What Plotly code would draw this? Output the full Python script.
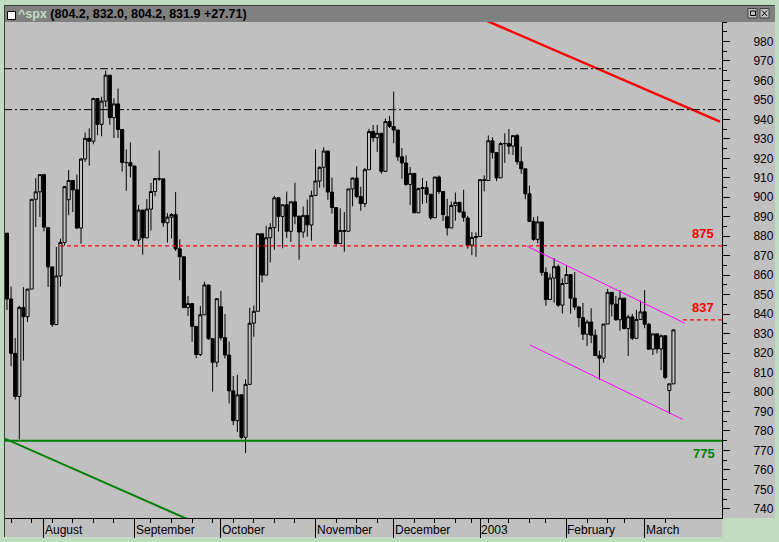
import plotly.graph_objects as go
import datetime as dt

# ---------------- data ----------------
dates = [
    "2002-07-19", "2002-07-22", "2002-07-23", "2002-07-24", "2002-07-25", "2002-07-26", "2002-07-29", "2002-07-30", "2002-07-31",
    "2002-08-01", "2002-08-02", "2002-08-05", "2002-08-06", "2002-08-07", "2002-08-08", "2002-08-09", "2002-08-12", "2002-08-13",
    "2002-08-14", "2002-08-15", "2002-08-16", "2002-08-19", "2002-08-20", "2002-08-21", "2002-08-22", "2002-08-23", "2002-08-26",
    "2002-08-27", "2002-08-28", "2002-08-29", "2002-08-30",
    "2002-09-03", "2002-09-04", "2002-09-05", "2002-09-06", "2002-09-09", "2002-09-10", "2002-09-11", "2002-09-12", "2002-09-13",
    "2002-09-16", "2002-09-17", "2002-09-18", "2002-09-19", "2002-09-20", "2002-09-23", "2002-09-24", "2002-09-25", "2002-09-26",
    "2002-09-27", "2002-09-30",
    "2002-10-01", "2002-10-02", "2002-10-03", "2002-10-04", "2002-10-07", "2002-10-08", "2002-10-09", "2002-10-10", "2002-10-11",
    "2002-10-14", "2002-10-15", "2002-10-16", "2002-10-17", "2002-10-18", "2002-10-21", "2002-10-22", "2002-10-23", "2002-10-24",
    "2002-10-25", "2002-10-28", "2002-10-29", "2002-10-30", "2002-10-31",
    "2002-11-01", "2002-11-04", "2002-11-05", "2002-11-06", "2002-11-07", "2002-11-08", "2002-11-11", "2002-11-12", "2002-11-13",
    "2002-11-14", "2002-11-15", "2002-11-18", "2002-11-19", "2002-11-20", "2002-11-21", "2002-11-22", "2002-11-25", "2002-11-26",
    "2002-11-27", "2002-11-29",
    "2002-12-02", "2002-12-03", "2002-12-04", "2002-12-05", "2002-12-06", "2002-12-09", "2002-12-10", "2002-12-11", "2002-12-12",
    "2002-12-13", "2002-12-16", "2002-12-17", "2002-12-18", "2002-12-19", "2002-12-20", "2002-12-23", "2002-12-24", "2002-12-26",
    "2002-12-27", "2002-12-30", "2002-12-31",
    "2003-01-02", "2003-01-03", "2003-01-06", "2003-01-07", "2003-01-08", "2003-01-09", "2003-01-10", "2003-01-13", "2003-01-14",
    "2003-01-15", "2003-01-16", "2003-01-17", "2003-01-21", "2003-01-22", "2003-01-23", "2003-01-24", "2003-01-27", "2003-01-28",
    "2003-01-29", "2003-01-30", "2003-01-31",
    "2003-02-03", "2003-02-04", "2003-02-05", "2003-02-06", "2003-02-07", "2003-02-10", "2003-02-11", "2003-02-12", "2003-02-13",
    "2003-02-14", "2003-02-18", "2003-02-19", "2003-02-20", "2003-02-21", "2003-02-24", "2003-02-25", "2003-02-26", "2003-02-27",
    "2003-02-28",
    "2003-03-03", "2003-03-04", "2003-03-05", "2003-03-06", "2003-03-07", "2003-03-10", "2003-03-12", "2003-03-13",
]

opens = [
    881.56, 847.76, 819.85, 797.71, 843.42, 838.68, 852.84, 898.96, 902.78,
    911.62, 884.40, 864.24, 834.60, 859.57, 876.77, 898.73, 908.64, 903.80,
    884.21, 919.62, 930.25, 928.77, 950.70, 937.43, 949.36, 962.70, 940.86,
    947.95, 934.82, 917.87, 917.80,
    916.07, 878.02, 893.40, 879.15, 893.92, 902.96, 909.58, 909.45, 886.91,
    889.81, 891.10, 873.52, 869.46, 843.32, 845.39, 833.70, 819.27, 839.66,
    854.95, 827.37,
    815.28, 843.77, 827.91, 818.95, 800.58, 785.28, 798.55, 776.76, 803.92,
    835.32, 841.44, 881.27, 860.02, 879.20, 884.39, 899.72, 890.16, 896.14,
    882.50, 897.65, 890.23, 882.15, 890.71,
    885.76, 900.96, 908.35, 915.39, 923.76, 902.65, 894.74, 876.19, 882.95,
    882.53, 904.27, 909.83, 900.36, 896.74, 914.15, 933.76, 930.55, 932.87,
    913.31, 938.87,
    936.31, 934.53, 920.75, 917.58, 906.55, 912.23, 892.00, 904.45, 904.96,
    901.58, 889.48, 910.40, 902.99, 890.02, 884.25, 895.74, 897.38, 892.47,
    889.31, 875.40, 879.39,
    879.82, 909.03, 908.59, 929.01, 922.93, 909.93, 927.58, 927.57, 926.26,
    931.66, 918.22, 914.60, 901.78, 887.62, 878.36, 887.34, 861.40, 847.48,
    858.54, 864.36, 844.61,
    855.70, 860.32, 848.20, 843.59, 838.15, 829.69, 835.97, 829.20, 818.68,
    817.37, 834.89, 851.17, 845.13, 837.10, 848.17, 832.58, 838.57, 827.55,
    837.28,
    841.15, 834.81, 821.99, 829.85, 822.10, 828.89, 800.73, 804.19,
]

highs = [
    881.56, 854.13, 827.69, 844.32, 853.83, 852.85, 898.96, 909.81, 911.64,
    911.62, 884.72, 864.24, 874.44, 878.74, 905.84, 913.95, 908.64, 911.71,
    920.21, 933.29, 935.38, 951.17, 950.70, 951.59, 965.00, 962.70, 950.80,
    955.82, 934.82, 924.59, 928.15,
    916.07, 896.10, 893.40, 899.07, 907.34, 909.89, 924.02, 909.45, 891.84,
    891.84, 902.68, 878.45, 869.46, 849.32, 845.39, 833.70, 844.22, 856.60,
    854.95, 827.37,
    847.93, 851.93, 840.02, 825.90, 808.21, 808.86, 798.55, 806.51, 843.27,
    844.39, 881.27, 881.27, 885.35, 886.68, 900.69, 899.72, 896.14, 902.94,
    897.71, 907.44, 890.64, 895.28, 898.83,
    903.42, 924.58, 915.83, 925.66, 923.76, 910.11, 894.74, 894.30, 892.51,
    904.27, 910.21, 915.91, 905.45, 915.01, 935.13, 937.15, 937.15, 932.87,
    940.41, 941.82,
    954.28, 934.53, 925.25, 921.49, 915.48, 912.23, 904.95, 909.94, 908.37,
    901.58, 910.42, 911.22, 902.99, 899.19, 897.79, 902.43, 897.38, 903.89,
    890.46, 882.10, 881.93,
    909.03, 911.25, 931.77, 930.81, 922.93, 928.31, 932.89, 935.05, 931.66,
    932.59, 926.03, 914.60, 906.00, 889.74, 890.25, 887.34, 863.95, 860.76,
    868.72, 865.48, 858.33,
    864.64, 860.32, 861.63, 844.23, 845.73, 837.16, 843.02, 832.12, 821.25,
    834.89, 852.87, 851.17, 849.37, 852.28, 848.17, 839.55, 840.10, 842.19,
    847.00,
    852.34, 835.43, 829.87, 829.85, 829.55, 828.89, 804.19, 832.02,
]

lows = [
    842.07, 813.26, 796.13, 775.68, 816.11, 835.92, 852.84, 884.70, 889.88,
    882.48, 853.95, 833.44, 834.60, 854.15, 875.17, 890.77, 892.38, 883.62,
    876.20, 918.17, 916.21, 927.21, 931.86, 931.32, 946.43, 937.17, 930.42,
    930.36, 913.21, 903.33, 910.17,
    877.51, 875.73, 870.50, 879.15, 882.92, 900.50, 908.47, 884.84, 876.76,
    878.91, 872.38, 857.39, 843.09, 839.09, 825.76, 817.38, 818.46, 839.66,
    826.84, 800.20,
    812.82, 826.50, 817.25, 794.10, 782.96, 779.50, 775.80, 768.63, 803.92,
    828.37, 841.44, 856.28, 860.02, 866.58, 873.06, 882.40, 873.82, 879.00,
    877.03, 886.15, 867.91, 879.19, 879.75,
    877.71, 900.96, 904.91, 905.00, 898.68, 891.62, 874.63, 876.19, 872.05,
    882.53, 895.35, 899.48, 893.09, 894.93, 914.15, 928.41, 923.31, 912.10,
    913.31, 935.58,
    927.72, 918.73, 909.51, 905.90, 895.96, 891.97, 892.00, 896.48, 897.00,
    888.48, 889.48, 901.74, 887.82, 880.32, 884.25, 887.98, 892.29, 887.48,
    873.62, 870.23, 869.45,
    879.82, 903.07, 908.59, 919.93, 908.32, 909.93, 917.66, 922.05, 921.72,
    916.70, 911.98, 899.02, 887.62, 877.64, 876.32, 859.71, 844.25, 847.48,
    845.86, 843.74, 840.34,
    855.70, 840.19, 842.11, 833.25, 826.70, 823.53, 825.09, 818.49, 806.29,
    815.03, 834.89, 838.79, 836.56, 831.48, 832.16, 818.54, 826.68, 827.55,
    837.28,
    832.74, 821.96, 819.00, 819.85, 811.23, 806.57, 788.90, 804.19,
]

closes = [
    847.75, 819.85, 797.70, 843.43, 838.68, 852.84, 898.96, 902.78, 911.62,
    884.66, 864.24, 834.60, 859.57, 876.77, 905.46, 908.64, 903.80, 884.21,
    919.62, 930.25, 928.77, 950.70, 937.43, 949.36, 962.70, 940.86, 947.95,
    934.82, 917.87, 917.80, 916.07,
    878.02, 893.40, 879.15, 893.92, 902.96, 909.58, 909.45, 886.91, 889.81,
    891.10, 873.52, 869.46, 843.32, 845.39, 833.70, 819.29, 839.66, 854.95,
    827.37, 815.28,
    847.91, 827.91, 818.95, 800.58, 785.28, 798.55, 776.76, 803.92, 835.32,
    841.44, 881.27, 860.02, 879.20, 884.39, 899.72, 890.16, 896.14, 882.50,
    897.65, 890.23, 882.15, 890.71, 885.76,
    900.96, 908.35, 915.39, 923.76, 902.65, 894.74, 876.19, 882.95, 882.53,
    904.27, 909.83, 900.36, 896.74, 914.15, 933.76, 930.55, 932.87, 913.31,
    938.87, 936.31,
    934.53, 920.75, 917.58, 906.55, 912.23, 892.00, 904.45, 904.96, 901.58,
    889.48, 910.40, 902.99, 891.12, 884.25, 895.76, 897.38, 892.47, 889.66,
    875.40, 879.39, 879.82,
    909.03, 908.59, 929.01, 922.93, 909.93, 927.57, 927.57, 926.26, 931.66,
    918.22, 914.60, 901.78, 887.62, 878.36, 887.34, 861.40, 847.48, 858.54,
    864.36, 844.61, 855.70,
    860.32, 848.20, 843.59, 838.15, 829.69, 835.97, 829.20, 818.68, 817.37,
    834.89, 851.17, 845.13, 837.10, 848.17, 832.58, 838.57, 827.55, 837.28,
    841.15,
    834.81, 821.99, 829.85, 822.10, 828.89, 807.48, 804.19, 831.90,
]

month_labels = ["August", "September", "October", "November", "December", "2003", "February", "March"]
month_dates = ["2002-08-01", "2002-09-03", "2002-10-02", "2002-11-04", "2002-12-02", "2003-01-02", "2003-02-03", "2003-03-03"]

price_ticks = list(range(740, 990, 10))

# drawn reference levels
dashdot_levels = [966, 945]
red_levels = [875, 837]
red_level_start = [12.9, 164.3]          # bar index where each red level starts
green_level = 775

# trend lines: (bar index, price) pairs
green_trend_x = [-1.0, 45.0]
green_trend_y = [776.5, 733.7]
red_trend_x = [115.0, 173.3]
red_trend_y = [992.1, 938.8]
chan_upper_x = [126.3, 164.8]
chan_upper_y = [875.0, 835.3]
chan_lower_x = [127.1, 164.2]
chan_lower_y = [824.2, 786.0]

title_text = "(804.2, 832.0, 804.2, 831.9 +27.71)"

# ---------------- geometry helpers (pixel -> paper) ----------------
W, H = 779, 542
L, R, T, B = 4, 57, 22, 24
PW, PH = W - L - R, H - T - B


def px(xp):
    return (xp - L) / PW


def py(yp):
    return (H - B - yp) / PH


xidx = list(range(len(dates)))
month_idx = [dates.index(d) for d in month_dates]

week_idx = []
prev_week = None
for i, d in enumerate(dates):
    wk = dt.date.fromisoformat(d).isocalendar()[:2]
    if wk != prev_week:
        if i not in month_idx and i > 0:
            week_idx.append(i)
        prev_week = wk

X_MIN, X_MAX = -0.72, 173.8
Y_MIN, Y_MAX = 735.3, 990.0

SILVER = "#C0C0C0"
GREENBG = "#C0DCC0"
FONT = "Liberation Sans, Arial, sans-serif"

fig = go.Figure()

fig.add_trace(go.Candlestick(
    x=xidx, open=opens, high=highs, low=lows, close=closes,
    increasing=dict(line=dict(color="black", width=1), fillcolor=SILVER),
    decreasing=dict(line=dict(color="black", width=1), fillcolor="black"),
    whiskerwidth=0, hoverinfo="skip", showlegend=False,
))

# trend lines
fig.add_trace(go.Scatter(x=green_trend_x, y=green_trend_y, mode="lines",
                         line=dict(color="#008000", width=2), hoverinfo="skip", showlegend=False))
fig.add_trace(go.Scatter(x=red_trend_x, y=red_trend_y, mode="lines",
                         line=dict(color="#FF0000", width=2.5), hoverinfo="skip", showlegend=False))
fig.add_trace(go.Scatter(x=chan_upper_x, y=chan_upper_y, mode="lines",
                         line=dict(color="#FF00FF", width=1), hoverinfo="skip", showlegend=False))
fig.add_trace(go.Scatter(x=chan_lower_x, y=chan_lower_y, mode="lines",
                         line=dict(color="#FF00FF", width=1), hoverinfo="skip", showlegend=False))

shapes = []
# silver panels for axes / title bar
shapes.append(dict(type="rect", xref="paper", yref="paper", x0=px(722), x1=px(775), y0=py(518), y1=py(22),
                   fillcolor=SILVER, line=dict(width=0), layer="below"))
shapes.append(dict(type="rect", xref="paper", yref="paper", x0=px(4), x1=px(722), y0=py(537), y1=py(518),
                   fillcolor=SILVER, line=dict(width=0), layer="below"))
shapes.append(dict(type="rect", xref="paper", yref="paper", x0=px(4), x1=px(775), y0=py(22), y1=py(5),
                   fillcolor="#808080", line=dict(width=0), layer="below"))
shapes.append(dict(type="line", xref="paper", yref="paper", x0=px(4), x1=px(775), y0=py(5.5), y1=py(5.5),
                   line=dict(color="#404040", width=1)))
shapes.append(dict(type="line", xref="paper", yref="paper", x0=px(4.5), x1=px(4.5), y0=py(537), y1=py(5),
                   line=dict(color="#404040", width=1)))
# checkbox in title bar
shapes.append(dict(type="rect", xref="paper", yref="paper", x0=px(7.5), x1=px(15.5), y0=py(19.5), y1=py(11.5),
                   fillcolor="white", line=dict(color="black", width=1)))
# window buttons
for bx in (748, 760):
    shapes.append(dict(type="rect", xref="paper", yref="paper", x0=px(bx), x1=px(bx + 9), y0=py(18), y1=py(8.5),
                       fillcolor=SILVER, line=dict(color="#404040", width=1)))
shapes.append(dict(type="rect", xref="paper", yref="paper", x0=px(750.5), x1=px(755.5), y0=py(15.5), y1=py(11),
                   fillcolor=SILVER, line=dict(color="black", width=1)))
shapes.append(dict(type="line", xref="paper", yref="paper", x0=px(762), x1=px(767), y0=py(16), y1=py(10.5),
                   line=dict(color="black", width=1)))
shapes.append(dict(type="line", xref="paper", yref="paper", x0=px(762), x1=px(767), y0=py(10.5), y1=py(16),
                   line=dict(color="black", width=1)))

# horizontal levels
for lv in dashdot_levels:
    shapes.append(dict(type="line", xref="paper", yref="y", x0=0, x1=1, y0=lv, y1=lv,
                       line=dict(color="black", width=1, dash="8px,3px,2px,3px")))
for lv, xs in zip(red_levels, red_level_start):
    shapes.append(dict(type="line", xref="x", yref="y", x0=xs, x1=X_MAX, y0=lv, y1=lv,
                       line=dict(color="#FF0000", width=1.3, dash="4px,3px")))
shapes.append(dict(type="line", xref="paper", yref="y", x0=0, x1=1, y0=green_level, y1=green_level,
                   line=dict(color="#008000", width=2)))

annotations = []
annotations.append(dict(
    xref="paper", yref="paper", x=px(16.5), y=py(14.5), xanchor="left", yanchor="middle",
    text="<span style='color:#C0DCC0'>^spx</span> " + title_text, showarrow=False,
    font=dict(family=FONT, size=12.5, color="black", weight="bold"), borderpad=0))

for lv in red_levels:
    annotations.append(dict(xref="paper", yref="y", x=px(703), y=lv, yshift=12, xanchor="center", yanchor="middle",
                            text=str(lv), showarrow=False,
                            font=dict(family=FONT, size=13, color="#FF0000", weight="bold")))
annotations.append(dict(xref="paper", yref="y", x=px(704), y=green_level, yshift=-13, xanchor="center",
                        yanchor="middle", text=str(green_level), showarrow=False,
                        font=dict(family=FONT, size=13, color="#008000", weight="bold")))

for lab, mi in zip(month_labels, month_idx):
    annotations.append(dict(xref="x", yref="paper", x=mi, y=py(529.5), xanchor="left", yanchor="middle",
                            text=lab, showarrow=False, borderpad=0,
                            font=dict(family=FONT, size=12, color="black")))

fig.update_layout(
    width=W, height=H, autosize=False,
    margin=dict(l=L, r=R, t=T, b=B, pad=0, autoexpand=False),
    paper_bgcolor=GREENBG, plot_bgcolor=SILVER,
    showlegend=False, boxgap=0.25, boxgroupgap=0,
    shapes=shapes, annotations=annotations,
    hovermode=False, dragmode=False,
    xaxis=dict(
        range=[X_MIN, X_MAX], showgrid=False, zeroline=False, rangeslider=dict(visible=False),
        showline=True, linecolor="black", linewidth=1, automargin=False,
        tickmode="array", tickvals=month_idx, ticks="outside", ticklen=19, tickcolor="black", tickwidth=1,
        showticklabels=False,
        minor=dict(tickmode="array", tickvals=week_idx, ticks="outside", ticklen=4, tickcolor="black", tickwidth=1),
    ),
    yaxis=dict(
        range=[Y_MIN, Y_MAX], side="right", showgrid=False, zeroline=False,
        showline=True, linecolor="black", linewidth=1, automargin=False,
        tickmode="array", tickvals=price_ticks, ticks="outside", ticklen=7, tickcolor="black", tickwidth=1,
        minor=dict(dtick=5, tick0=0, ticks="outside", ticklen=4, tickcolor="black", tickwidth=1),
        tickfont=dict(family=FONT, size=12, color="black"), ticklabelstandoff=21,
    ),
)

fig.write_html(
    "out.html",
    config={"displayModeBar": False, "staticPlot": True},
    post_script="document.body.style.margin='0px';document.body.style.overflow='hidden';",
)
